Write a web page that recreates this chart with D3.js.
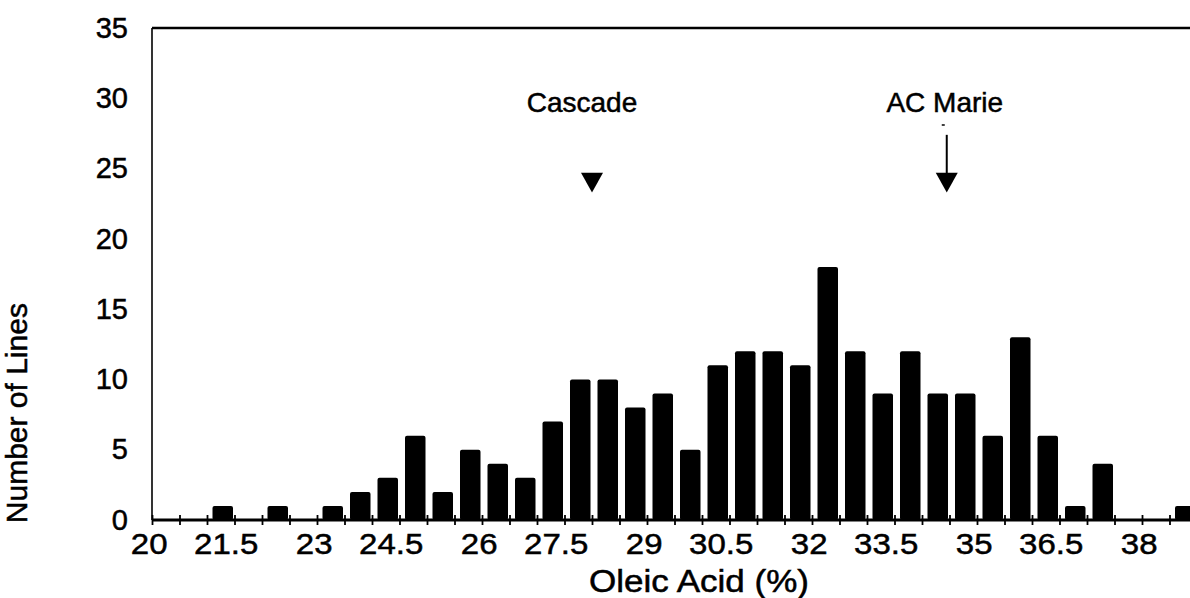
<!DOCTYPE html>
<html lang="en">
<head>
    <meta charset="UTF-8">
    <title>Oleic Acid Histogram</title>
    <script src="https://cdn.jsdelivr.net/npm/d3@7/dist/d3.min.js"></script>
    <style>
        body { margin: 0; background: #fff; }
        text { font-family: Arial, "Liberation Sans", sans-serif; fill: #000; stroke: #000; stroke-width: 0.5px; }
    </style>
</head>
<body>
<script>
    // bins of 0.5 % oleic acid (start of each bin)
    let binStarts = [20, 20.5, 21, 21.5, 22, 22.5, 23, 23.5, 24, 24.5, 25, 25.5, 26, 26.5, 27, 27.5,
        28, 28.5, 29, 29.5, 30, 30.5, 31, 31.5, 32, 32.5, 33, 33.5, 34, 34.5, 35, 35.5, 36, 36.5,
        37, 37.5, 38, 38.5]
    let lineCounts = [0, 0, 1, 0, 1, 0, 1, 2, 3, 6, 2, 5, 4, 3, 7, 10,
        10, 8, 9, 5, 11, 12, 12, 11, 18, 12, 9, 12, 9, 9, 6, 13, 6, 1,
        4, 0, 0, 1]
    let xTickLabels = [20, 21.5, 23, 24.5, 26, 27.5, 29, 30.5, 32, 33.5, 35, 36.5, 38]
    let yTickLabels = [0, 5, 10, 15, 20, 25, 30, 35]

    // cultivar markers
    let markNames = ["Cascade", "AC Marie"]
    let markValues = [28.0, 34.45]
    let markStem = [false, true]

    let W = 1190, H = 598
    let svg = d3.select('body').append('svg')
        .attr('width', W).attr('height', H)
        .attr('viewBox', `0 0 ${W} ${H}`)

    let x = d3.scaleLinear().domain([20, 39]).range([152, 1197])
    let y = d3.scaleLinear().domain([0, 35]).range([520, 28])

    let data = binStarts.map((b, i) => ({bin: b, n: lineCounts[i]}))

    // bars
    svg.selectAll('rect.bar').data(data.filter(d => d.n > 0))
        .enter().append('rect')
        .attr('class', 'bar')
        .attr('x', d => x(d.bin) + 5.5)
        .attr('width', d => x(d.bin + 0.5) - x(d.bin) - 7)
        .attr('y', d => y(d.n))
        .attr('height', d => y(0) - y(d.n))
        .attr('rx', 2)
        .attr('fill', '#000')

    // frame: left and top lines
    svg.append('line')
        .attr('x1', x(20)).attr('x2', x(20))
        .attr('y1', y(35)).attr('y2', y(0))
        .attr('stroke', '#000').attr('stroke-width', 1.6)
    svg.append('line')
        .attr('x1', x(20)).attr('x2', W)
        .attr('y1', y(35)).attr('y2', y(35))
        .attr('stroke', '#000').attr('stroke-width', 2.6)

    // x axis: crossing ticks every bin
    let xAxis = svg.append('g')
        .attr('transform', `translate(0,${y(0)})`)
        .call(d3.axisBottom(x).tickValues(binStarts).tickSize(5).tickFormat(''))
    xAxis.select('.domain').remove()
    xAxis.selectAll('.tick line')
        .attr('y1', -5).attr('y2', 5)
        .attr('stroke', '#000').attr('stroke-width', 1.8)
    svg.append('line')
        .attr('x1', x(20)).attr('x2', W)
        .attr('y1', y(0)).attr('y2', y(0))
        .attr('stroke', '#000').attr('stroke-width', 2.8)

    // x labels (the .5 labels sit a little left of their tick in the original)
    let xLab = svg.append('g')
        .attr('transform', `translate(0,${y(0)})`)
        .call(d3.axisBottom(x).tickValues(xTickLabels).tickSize(0).tickPadding(13)
            .tickFormat(d => String(d)))
    xLab.select('.domain').remove()
    xLab.selectAll('.tick text')
        .attr('font-size', 30)
        .attr('font-family', 'Arial, "Liberation Sans", sans-serif')
        .attr('fill', '#000')
        .attr('dx', d => Number.isInteger(d) ? -3 : -8)
        .attr('transform', 'scale(1.1,1)')

    // y labels
    let yLab = svg.append('g')
        .attr('transform', `translate(${x(20)},0)`)
        .call(d3.axisLeft(y).tickValues(yTickLabels).tickSize(0).tickPadding(24))
    yLab.select('.domain').remove()
    yLab.selectAll('.tick text')
        .attr('font-size', 29)
        .attr('font-family', 'Arial, "Liberation Sans", sans-serif')
        .attr('fill', '#000')

    // axis titles
    svg.append('text')
        .attr('transform', `translate(699,592) scale(1.13,1)`)
        .attr('text-anchor', 'middle')
        .attr('font-size', 31)
        .text('Oleic Acid (%)')
    svg.append('text')
        .attr('transform', `translate(27,${y(7.6)}) rotate(-90)`)
        .attr('text-anchor', 'middle')
        .attr('font-size', 30)
        .text('Number of Lines')

    // markers with arrows
    let labelShift = {"Cascade": -10, "AC Marie": -2}
    let marks = svg.selectAll('g.mark')
        .data(markNames.map((m, i) => ({name: m, v: markValues[i], stem: markStem[i]})))
        .enter().append('g').attr('class', 'mark')
    marks.append('text')
        .attr('x', d => x(d.v) + labelShift[d.name])
        .attr('y', y(29))
        .attr('text-anchor', 'middle')
        .attr('font-size', 28)
        .text(d => d.name)
    // small dash under the AC Marie label, as in the original
    marks.filter(d => d.stem).append('line')
        .attr('x1', d => x(d.v) - 5).attr('x2', d => x(d.v) - 2)
        .attr('y1', y(28.1)).attr('y2', y(28.1))
        .attr('stroke', '#000').attr('stroke-width', 1.5)
    marks.filter(d => d.stem).append('line')
        .attr('x1', d => x(d.v)).attr('x2', d => x(d.v))
        .attr('y1', y(27.4)).attr('y2', y(24.5))
        .attr('stroke', '#000').attr('stroke-width', 2)
    marks.append('path')
        .attr('d', d => `M${x(d.v) - 11},${y(24.7)}L${x(d.v) + 11},${y(24.7)}L${x(d.v)},${y(23.3)}Z`)
        .attr('fill', '#000')
</script>
</body>
</html>
